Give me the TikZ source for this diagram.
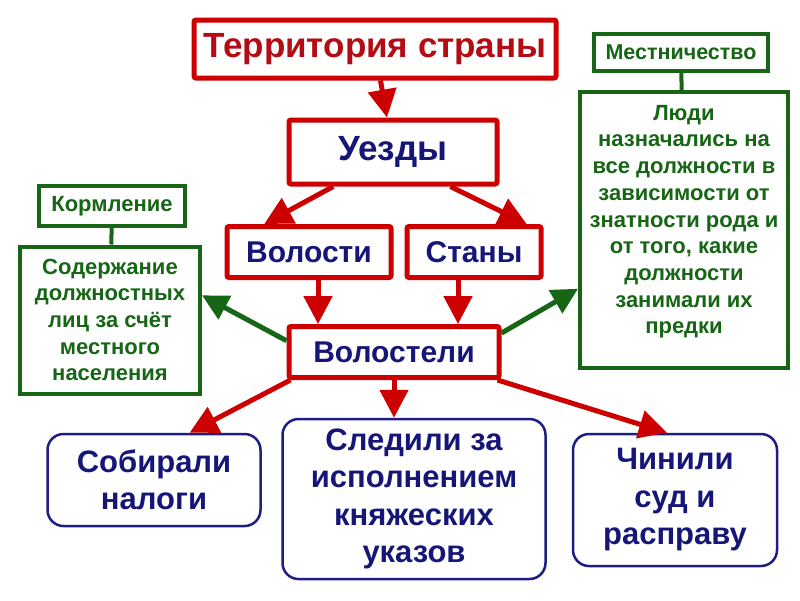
\documentclass[tikz,border=0pt]{standalone}
\usepackage{fontspec}
\setmainfont{Liberation Sans}
\usetikzlibrary{arrows.meta}
\definecolor{boxred}{RGB}{204,0,0}
\definecolor{titlered}{RGB}{180,12,20}
\definecolor{navy}{RGB}{22,22,120}
\definecolor{darkgreen}{RGB}{22,102,22}
\definecolor{boxblue}{RGB}{30,30,130}
\tikzset{
  redbox/.style={draw=boxred, line width=5pt, fill=white, inner sep=0pt, rounded corners=2pt, text=navy, font=\bfseries\fontsize{30}{34}\selectfont},
  greenbox/.style={draw=darkgreen, line width=4pt, fill=white, inner sep=0pt, text=darkgreen, align=center, font=\bfseries\fontsize{22}{26.7}\selectfont},
  bluebox/.style={draw=boxblue, line width=2.5pt, rounded corners=16pt, inner sep=0pt, text=navy, align=center, font=\bfseries\fontsize{31}{37.5}\selectfont},
  redarrow/.style={draw=boxred, line width=5pt, -{Triangle[length=28pt,width=28pt]}},
  greenarrow/.style={draw=darkgreen, line width=5pt, -{Triangle[length=26pt,width=26pt]}},
  link/.style={draw=darkgreen, line width=4pt},
}
\begin{document}
\begin{tikzpicture}[x=1pt, y=-1pt]
  \useasboundingbox (0,0) rectangle (800,600);
  % red chain
  \node[redbox, minimum width=362, minimum height=58, text=titlered, font=\bfseries\fontsize{35}{38}\selectfont] (terr) at (375,49) {Территория страны};
  \node[redbox, minimum width=208, minimum height=64, font=\bfseries\fontsize{35}{38}\selectfont] (uezd) at (393,152) {Уезды};
  \node[redbox, minimum width=164, minimum height=51] (volost) at (309,252) {Волости};
  \node[redbox, minimum width=134, minimum height=51] (stany) at (474,252) {Станы};
  \node[redbox, minimum width=210, minimum height=51] (volosteli) at (394,352) {Волостели};
  % green notes
  \node[greenbox, minimum width=146, minimum height=40] (korm) at (112,206) {Кормление};
  \node[greenbox, minimum width=180, minimum height=147] (soder) at (110,320) {Содержание\\должностных\\лиц за счёт\\местного\\населения};
  \node[greenbox, minimum width=174, minimum height=37, font=\bfseries\fontsize{21.5}{24}\selectfont] (mestn) at (681,52) {Местничество};
  \node[greenbox, minimum width=208, minimum height=276, text depth=21pt] (ludi) at (684,230) {Люди\\назначались на\\все должности в\\зависимости от\\знатности рода и\\от того, какие\\должности\\занимали их\\предки};
  % duties
  \node[bluebox, minimum width=213, minimum height=92] (sobir) at (154,480) {Собирали\\налоги};
  \node[bluebox, minimum width=263, minimum height=160] (sled) at (414,499) {Следили за\\исполнением\\княжеских\\указов};
  \node[bluebox, minimum width=204, minimum height=132] (chin) at (675,500) {Чинили\\суд и\\расправу};
  % links
  \draw[link] (korm) -- (soder);
  \draw[link] (mestn) -- (ludi);
  % arrows
  \draw[redarrow] (terr) -- (uezd);
  \draw[redarrow] (uezd.-150) -- (volost.148);
  \draw[redarrow] (uezd.-31) -- (stany.28);
  \draw[redarrow] ([xshift=9pt]volost.south) -- ([xshift=9pt]volost.south |- volosteli.north);
  \draw[redarrow] ([xshift=-16pt]stany.south) -- ([xshift=-16pt]stany.south |- volosteli.north);
  \draw[greenarrow] (volosteli.174) -- (soder.15);
  \draw[greenarrow] (volosteli.10) -- (ludi.209);
  \draw[redarrow] ([xshift=4pt]volosteli.south west) -- (sobir.53);
  \draw[redarrow] (volosteli.south) -- (volosteli.south |- sled.north);
  \draw[redarrow] ([xshift=-4pt]volosteli.south east) -- ([xshift=-8pt]chin.north);
\end{tikzpicture}
\end{document}
